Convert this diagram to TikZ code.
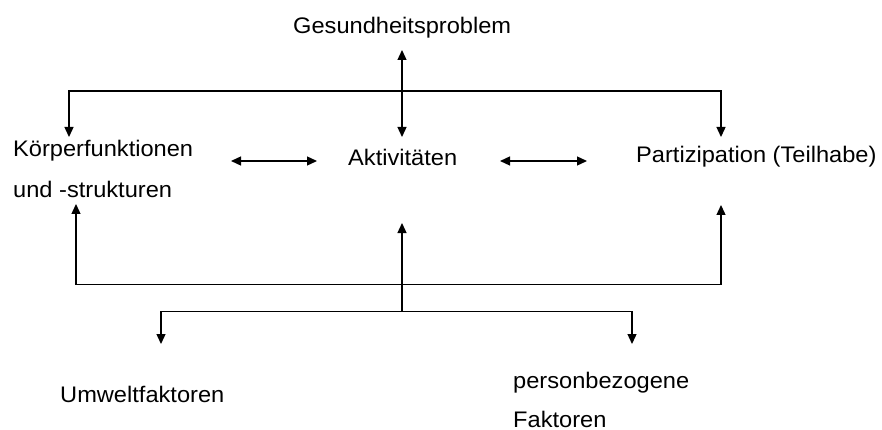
\documentclass[tikz,border=0pt]{standalone}
\usepackage{fontspec}
\setmainfont{Liberation Sans}[FakeStretch=1.05]
\usetikzlibrary{arrows.meta}
\begin{document}
\begin{tikzpicture}[x=1pt,y=-1pt,
  lbl/.style={anchor=base west,inner sep=0pt,font=\fontsize{22.5}{27}\selectfont},
  ln/.style={line width=1.3pt,line join=miter},
  conn/.style={ln,-{Triangle[length=10pt,width=9pt]}},
  dbl/.style={ln,{Triangle[length=10pt,width=9pt]}-{Triangle[length=10pt,width=9pt]}}]
\useasboundingbox (0,0) rectangle (882,430);
% texts
\node[lbl] (g) at (293,34) {Gesundheitsproblem};
\node[lbl] (k1) at (13,157) {Körperfunktionen};
\node[lbl] (k2) at (13,198) {und -strukturen};
\node[lbl] (a) at (348,166) {Aktivitäten};
\node[lbl] (p) at (636,163) {Partizipation (Teilhabe)};
\node[lbl] (u) at (60,402) {Umweltfaktoren};
\node[lbl] (pb1) at (513,388) {personbezogene};
\node[lbl] (pb2) at (513,427) {Faktoren};
% coordinates
\coordinate (gtip) at (402,50);
\coordinate (atip) at (402,137);
\coordinate (tl) at (69,91);
\coordinate (tr) at (721,91);
\coordinate (ktip) at (69,137);
\coordinate (ptip) at (721,137);
\coordinate (d1a) at (231,161);
\coordinate (d1b) at (317,161);
\coordinate (d2a) at (500,161);
\coordinate (d2b) at (587,161);
\coordinate (bl) at (76,284.5);
\coordinate (br) at (721,284.5);
\coordinate (kup) at (76,204);
\coordinate (pup) at (721,205);
\coordinate (cb) at (402,311.5);
\coordinate (aup) at (402,223);
\coordinate (ll) at (161,311.5);
\coordinate (lr) at (632,311.5);
\coordinate (utip) at (161,344);
\coordinate (pbtip) at (632,344);
% connectors
\draw[dbl] (gtip) -- (atip);
\draw[conn] (tr) -- (tl) -- (ktip);
\draw[conn] (tl) -- (tr) -- (ptip);
\draw[dbl] (d1a) -- (d1b);
\draw[dbl] (d2a) -- (d2b);
\draw[conn] (br) -- (bl) -- (kup);
\draw[conn] (bl) -- (br) -- (pup);
\draw[conn] (cb) -- (aup);
\draw[conn] (lr) -- (ll) -- (utip);
\draw[conn] (ll) -- (lr) -- (pbtip);
\end{tikzpicture}
\end{document}
